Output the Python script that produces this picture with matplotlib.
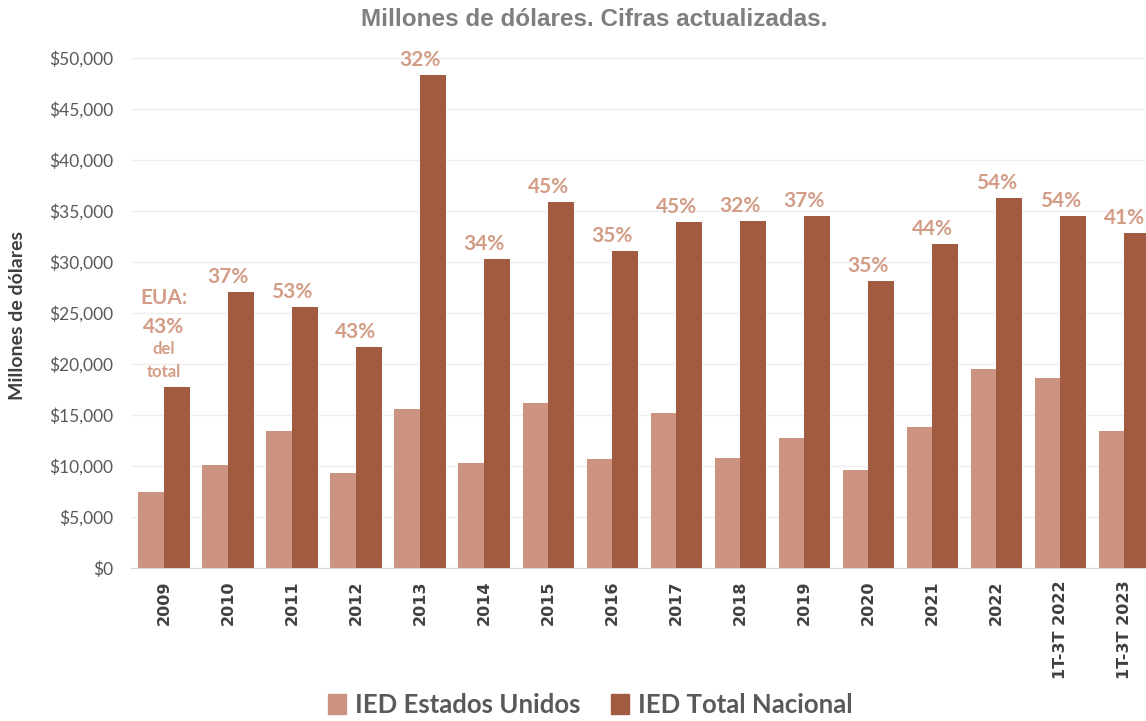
import matplotlib
matplotlib.use("Agg")
import matplotlib.pyplot as plt
from matplotlib import font_manager
from matplotlib.patches import Patch
from matplotlib.ticker import FuncFormatter, MultipleLocator
import numpy as np

categories = ["2009", "2010", "2011", "2012", "2013", "2014", "2015", "2016",
              "2017", "2018", "2019", "2020", "2021", "2022", "1T-3T 2022", "1T-3T 2023"]
ied_eua = [7500, 10100, 13450, 9300, 15550, 10300, 16200, 10650,
           15200, 10800, 12700, 9650, 13800, 19500, 18600, 13420]
ied_total = [17750, 27100, 25550, 21650, 48300, 30270, 35900, 31100,
             33970, 34000, 34550, 28120, 31760, 36260, 34490, 32880]
pct_eua = [43, 37, 53, 43, 32, 34, 45, 35, 45, 32, 37, 35, 44, 54, 54, 41]

names = {f.name for f in font_manager.fontManager.ttflist}
num_font = "Lato" if "Lato" in names else "DejaVu Sans"

C_US = "#CC9480"
C_TOT = "#A05B40"
C_LBL = "#D39C86"

fig = plt.figure(figsize=(11.46, 7.21), dpi=100)
ax = fig.add_axes([131/1146, 1-568/721, 1-131/1146, (568-58)/721])

x = np.arange(len(categories))
w = 0.40
ax.bar(x - w/2, ied_eua, width=w, color=C_US, label="IED Estados Unidos", zorder=3)
ax.bar(x + w/2, ied_total, width=w, color=C_TOT, label="IED Total Nacional", zorder=3)

ax.set_xlim(-0.516, 15.34)
ax.set_ylim(0, 50000)
ax.yaxis.set_major_locator(MultipleLocator(5000))
ax.yaxis.set_major_formatter(FuncFormatter(lambda v, p: "${:,.0f}".format(v)))
ax.grid(axis="y", color="#EFEFEF", linewidth=1, zorder=0)
for s in ["top", "right", "left"]:
    ax.spines[s].set_visible(False)
ax.spines["bottom"].set_color("#D9D9D9")
ax.spines["bottom"].set_zorder(4)
ax.tick_params(axis="y", length=0, pad=13, labelsize=12.5, labelcolor="#595959")
for lab in ax.get_yticklabels():
    lab.set_fontfamily(num_font)
ax.set_xticks(x)
ax.tick_params(axis="x", length=0, pad=9)
ax.set_xticklabels(categories, rotation=90, fontsize=11.5, fontweight="bold",
                   color="#404040", family="DejaVu Sans")

# percentage labels
pt = 0.72
for i, (t, p) in enumerate(zip(ied_total, pct_eua)):
    if i == 0:
        parts = [("total", 10, 12), ("del", 33, 12), (f"{p}%", 54, 15), ("EUA:", 83, 15)]
        for txt, off, fs in parts:
            ax.annotate(txt, (x[i], t), xytext=(0, off*pt), textcoords="offset points",
                        ha="center", va="baseline", fontsize=fs, fontweight="bold",
                        color=C_LBL, family=num_font, annotation_clip=False)
    else:
        ax.annotate(f"{p}%", (x[i], t), xytext=(0, 9*pt), textcoords="offset points",
                    ha="center", va="baseline", fontsize=15, fontweight="bold",
                    color=C_LBL, family=num_font, annotation_clip=False)

fig.text(594/1146, 1-20/721, "Millones de dólares. Cifras actualizadas.",
         ha="center", va="center", fontsize=17.5, fontweight="bold",
         color="#7F7F7F", family="Liberation Sans")
fig.text(18/1146, 1-316/721, "Millones de dólares", rotation=90, ha="center",
         va="center", fontsize=14, fontweight="bold", color="#404040", family=num_font)

handles = [Patch(color=C_US, label="IED Estados Unidos"),
           Patch(color=C_TOT, label="IED Total Nacional")]
fig.legend(handles=handles, loc="center", bbox_to_anchor=(590/1146, 1-705/721),
           ncol=2, frameon=False, handlelength=0.7, handleheight=0.85,
           handletextpad=0.35, columnspacing=1.2,
           prop={"family": num_font, "size": 18.5, "weight": "bold"})
for t in fig.legends[0].get_texts():
    t.set_color("#595959")

fig.savefig("out.png", dpi=100)
